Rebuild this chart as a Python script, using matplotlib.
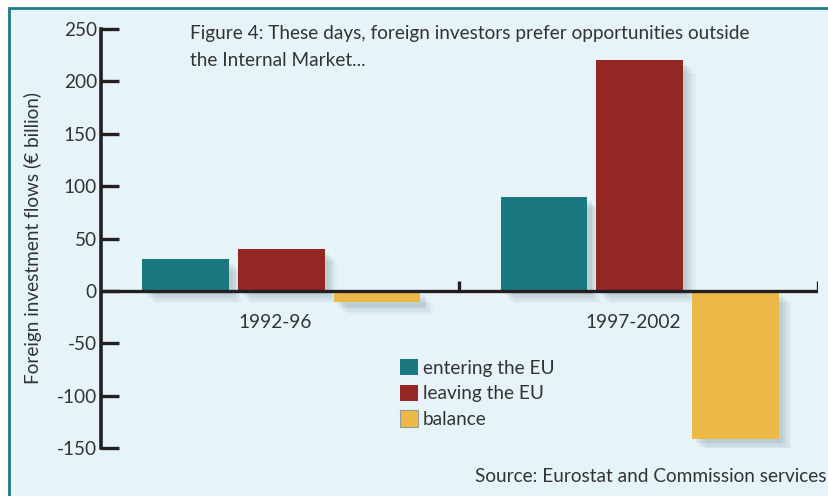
import matplotlib
matplotlib.use("Agg")
import matplotlib.pyplot as plt
import matplotlib.patheffects as pe
from matplotlib.patches import Rectangle, Patch
import numpy as np

plt.rcParams['font.family'] = ['Lato', 'DejaVu Sans']

periods = ["1992-96", "1997-2002"]
series_names = ["entering the EU", "leaving the EU", "balance"]
entering = [30, 90]
leaving = [40, 220]
balance = [-11, -141]
yticks = [-150, -100, -50, 0, 50, 100, 150, 200, 250]

colors = ["#1B7880", "#922724", "#EDB946"]
bg = "#E6F4F9"
border = "#1E7A82"
ink = "#231F20"
textc = "#333333"
FS = 13.7

W, H = 829, 496
fig = plt.figure(figsize=(W/100, H/100), dpi=100, facecolor="white")

# framed background panel
fig.patches.append(Rectangle((9.5/W, -0.01), 1.0, 1 - 7.5/H + 0.01, transform=fig.transFigure,
                             facecolor=bg, edgecolor=border, linewidth=2.0, zorder=-5))

ax = fig.add_axes([101/W, 1 - 448/H, (818-101)/W, (448-29)/H])
ax.set_zorder(2)
ax.set_facecolor("none")
ax.set_xlim(-0.5, 1.5)
ax.set_ylim(-150, 250)

x = np.arange(len(periods))
bw = 0.242
off = 0.267
shadow = [pe.SimplePatchShadow(offset=(o, -o), shadow_rgbFace="#33505a", alpha=a)
          for o, a in [(9, 0.04), (7, 0.06), (5, 0.07), (3, 0.08)]] + [pe.Normal()]
for i, (vals, c) in enumerate(zip([entering, leaving, balance], colors)):
    bars = ax.bar(x + (i - 1) * off + 0.003, vals, width=bw, color=c, zorder=3, linewidth=0)
    for b in bars:
        b.set_path_effects(shadow)

# zero line and group ticks
ax.axhline(0, color=ink, linewidth=2.4, zorder=4)
ax.vlines([0.5, 1.5], 0, 9.5, color=ink, linewidth=2.4, zorder=4)

for s in ["top", "right", "bottom"]:
    ax.spines[s].set_visible(False)
ax.spines["left"].set_color(ink)
ax.spines["left"].set_linewidth(2.6)
ax.set_xticks([])
ax.set_yticks(yticks)
ax.set_yticklabels([str(v) for v in yticks])
ax.tick_params(axis="y", direction="in", length=13, width=2.4, color=ink,
               labelsize=FS, labelcolor=textc, pad=3)

for xi, lab in zip(x, periods):
    ax.text(xi - 0.015, -30, lab, ha="center", va="center", fontsize=FS, color=textc)

fig.text(33/W, 1 - 238/H, "Foreign investment flows (€ billion)", rotation=90,
         ha="center", va="center", fontsize=FS, color=textc)

fig.text(190/W, 1 - 33/H, "Figure 4: These days, foreign investors prefer opportunities outside",
         ha="left", va="center", fontsize=FS, color=textc)
fig.text(190/W, 1 - 60/H, "the Internal Market...",
         ha="left", va="center", fontsize=FS, color=textc)

fig.text(827/W, 1 - 477/H, "Source: Eurostat and Commission services",
         ha="right", va="center", fontsize=FS, color=textc)

handles = [Patch(facecolor=colors[0], edgecolor="none"),
           Patch(facecolor=colors[1], edgecolor="none"),
           Patch(facecolor=colors[2], edgecolor="#999999", linewidth=0.8)]
leg = fig.legend(handles, series_names, loc="upper left",
                 bbox_to_anchor=(400/W, 1 - 359/H), bbox_transform=fig.transFigure,
                 frameon=False, fontsize=FS, handlelength=0.95, handleheight=0.95,
                 handletextpad=0.25, labelspacing=0.42, borderpad=0, borderaxespad=0)
for t in leg.get_texts():
    t.set_color(textc)

fig.savefig("out.png", dpi=100, facecolor="white")
